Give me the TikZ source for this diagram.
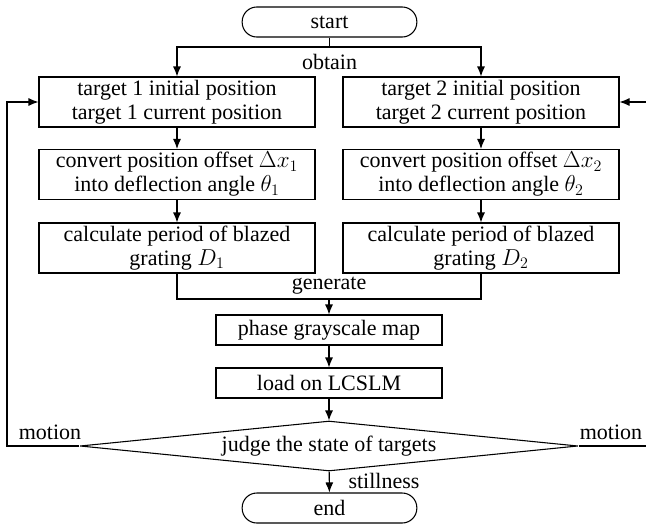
\documentclass[tikz,border=0pt]{standalone}
\usepackage{fontspec}
\setmainfont{Liberation Serif}
\usetikzlibrary{shapes.geometric, arrows.meta, positioning}

\begin{document}
\begin{tikzpicture}[x=0.75pt, y=-0.75pt, font=\fontsize{16.5}{18}\selectfont,
			box/.style={rectangle, draw, line width=0.8pt, align=center,
				minimum width=207pt, minimum height=37.5pt, inner sep=2pt},
			small/.style={rectangle, draw, line width=0.8pt, align=center,
				minimum width=169.5pt, minimum height=22.5pt, inner sep=2pt},
			term/.style={rectangle, draw, line width=0.8pt, rounded corners=11pt,
				minimum width=131pt, minimum height=22.5pt, inner sep=2pt},
			decision/.style={diamond, draw, line width=0.8pt, aspect=10, inner sep=0pt,
				minimum width=373.5pt, minimum height=37.5pt},
			line/.style={line width=0.8pt},
			flow/.style={-{Latex[length=7.5pt, width=6pt]}, line width=0.8pt}]
			
			\useasboundingbox (0,0) rectangle (646,525);
			
			\node[term] (start) at (329.5,22) {start};
			\node[box] (pos1) at (177,102) {target 1 initial position\\target 1 current position};
			\node[box] (pos2) at (481,102) {target 2 initial position\\target 2 current position};
			\node[box] (conv1) at (177,174.5) {convert position offset $\Delta x_1$\\into deflection angle $\theta_1$};
			\node[box] (conv2) at (481,174.5) {convert position offset $\Delta x_2$\\into deflection angle $\theta_2$};
			\node[box] (calc1) at (177,248) {calculate period of blazed\\grating $D_1$};
			\node[box] (calc2) at (481,248) {calculate period of blazed\\grating $D_2$};
			\node[small] (phase) at (329,330) {phase grayscale map};
			\node[small] (load) at (329,383) {load on LCSLM};
			\node[decision] (judge) at (329,446) {judge the state of targets};
			\node[term] (stop) at (329.5,508) {end};
			
			\coordinate (split) at (329.5,47);
			\coordinate (merge) at (329,299);
			\coordinate (loopL) at (7,446);
			\coordinate (loopR) at (646,446);
			\coordinate (backR) at (646,102);
			
			\node (obtain) at (329.5,62) {obtain};
			\node (generate) at (329,286) {generate};
			\node (still) at (384,481) {stillness};
			\node (motionL) at (50,432) {motion};
			\node (motionR) at (611,432) {motion};
			
			\draw[line] (start) -- (split);
			\draw[flow] (split) -| (pos1);
			\draw[flow] (split) -| (pos2);
			\draw[flow] (pos1) -- (conv1);
			\draw[flow] (pos2) -- (conv2);
			\draw[flow] (conv1) -- (calc1);
			\draw[flow] (conv2) -- (calc2);
			\draw[line] (calc1) |- (merge) -| (calc2);
			\draw[flow] (merge) -- (phase);
			\draw[flow] (phase) -- (load);
			\draw[flow] (load) -- (judge);
			\draw[flow] (judge) -- (stop);
			\draw[flow] (judge.west) -- (loopL) |- (pos1);
			\draw[line] (judge.east) -- (loopR);
			\draw[flow] (backR) -- (pos2);
		\end{tikzpicture}
\end{document}
